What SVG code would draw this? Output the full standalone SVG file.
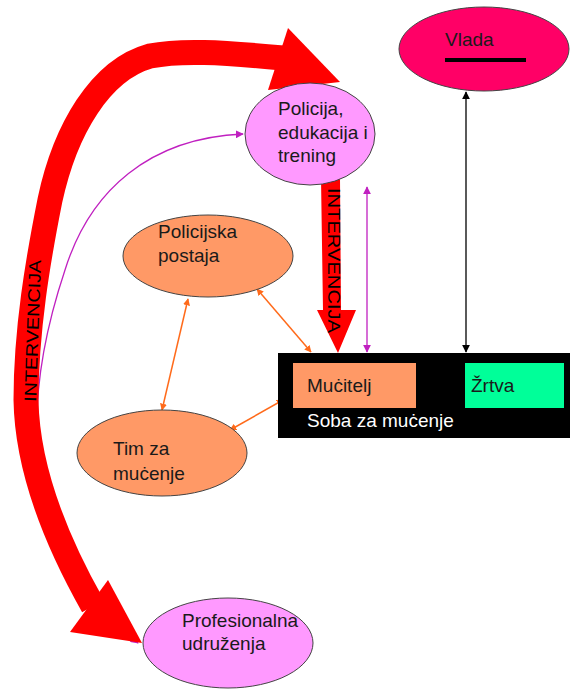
<svg xmlns="http://www.w3.org/2000/svg" width="570" height="689" viewBox="0 0 570 689">
<defs>
<style>
.t{font-family:"Liberation Sans",Arial,sans-serif;font-size:19px;fill:#1a1a1a}
.ell{stroke:#444;stroke-width:1}
.or{stroke:#FF6A1A;stroke-width:1.5;fill:none}
.mg{stroke:#C020C0;stroke-width:1.3;fill:none}
.bk{stroke:#000;stroke-width:1.3;fill:none}
</style>
<marker id="ao" viewBox="0 0 10 10" refX="9" refY="5" markerWidth="7" markerHeight="7" orient="auto-start-reverse" markerUnits="userSpaceOnUse"><path d="M0,0 L10,5 L0,10 z" fill="#FF6A1A"/></marker>
<marker id="am" viewBox="0 0 10 10" refX="9" refY="5" markerWidth="8" markerHeight="8" orient="auto-start-reverse" markerUnits="userSpaceOnUse"><path d="M0,0 L10,5 L0,10 z" fill="#C020C0"/></marker>
<marker id="ab" viewBox="0 0 10 10" refX="9" refY="5" markerWidth="8" markerHeight="8" orient="auto-start-reverse" markerUnits="userSpaceOnUse"><path d="M0,0 L10,5 L0,10 z" fill="#000"/></marker>
</defs>
<rect width="570" height="689" fill="#fff"/>

<g id="connectors">
  <path class="mg" d="M138,643 C80,600 40,520 37,440 C35,390 45,330 65,270 C90,190 150,138 243,134" marker-start="url(#am)" marker-end="url(#am)"/>
  <path d="M283,58 C220,52 180,50 150,56 C100,70 65,130 50,200 C38,260 26,330 26,400 C27,460 50,530 93,606" fill="none" stroke="#FF0000" stroke-width="25"/>
  <polygon points="288,28 268,90 340,82" fill="#FF0000"/>
  <polygon points="70,632 108,580 142,643" fill="#FF0000"/>
  <text class="t" transform="translate(36,402) rotate(-88)" style="font-size:17px;fill:#000" textLength="142" lengthAdjust="spacingAndGlyphs">INTERVENCIJA</text>
  <polygon points="321,178 340,178 341,310 356,310 338,353 317,310 323,310" fill="#FF0000"/>
  <text class="t" transform="translate(328,188) rotate(90)" style="font-size:17px;fill:#000" textLength="145" lengthAdjust="spacingAndGlyphs">INTERVENCIJA</text>
  <line class="mg" x1="367" y1="187" x2="367" y2="352" marker-start="url(#am)" marker-end="url(#am)"/>
  <line class="bk" x1="466" y1="92" x2="466" y2="352" marker-start="url(#ab)" marker-end="url(#ab)"/>
  <line class="or" x1="257" y1="289" x2="311" y2="352" marker-start="url(#ao)" marker-end="url(#ao)"/>
  <line class="or" x1="188" y1="299" x2="162" y2="410" marker-start="url(#ao)" marker-end="url(#ao)"/>
  <line class="or" x1="230" y1="430" x2="283" y2="400" marker-start="url(#ao)" marker-end="url(#ao)"/>
</g>

<g id="vlada">
  <ellipse class="ell" cx="484" cy="49" rx="85" ry="42" fill="#FF0066"/>
  <text class="t" x="445" y="46">Vlada</text>
  <rect x="445" y="58" width="81" height="4" fill="#000"/>
</g>

<g id="policija">
  <ellipse class="ell" cx="310" cy="134" rx="65" ry="51" fill="#FF99FF"/>
  <text class="t" x="278" y="115">Policija,</text>
  <text class="t" x="278" y="138.5">edukacija i</text>
  <text class="t" x="278" y="162">trening</text>
</g>

<g id="postaja">
  <ellipse class="ell" cx="208" cy="256" rx="85" ry="41" fill="#FF9966"/>
  <text class="t" x="158" y="238">Policijska</text>
  <text class="t" x="158" y="262">postaja</text>
</g>

<g id="tim">
  <ellipse class="ell" cx="162" cy="453" rx="85" ry="43" fill="#FF9966"/>
  <text class="t" x="113" y="455">Tim za</text>
  <text class="t" x="113" y="480">muċenje</text>
</g>

<g id="soba">
  <rect x="278" y="353" width="292" height="85" fill="#000"/>
  <text class="t" x="307" y="427" style="fill:#fff">Soba za muċenje</text>
</g>

<g id="mucitelj">
  <rect x="293" y="363" width="123" height="45" fill="#FF9966"/>
  <text class="t" x="307" y="392">Muċitelj</text>
</g>

<g id="zrtva">
  <rect x="465" y="363" width="99" height="45" fill="#00FF99"/>
  <text class="t" x="471" y="392">Žrtva</text>
</g>

<g id="profesionalna">
  <ellipse class="ell" cx="228" cy="643" rx="85" ry="45" fill="#FF99FF"/>
  <text class="t" x="182" y="627">Profesionalna</text>
  <text class="t" x="182" y="650">udruženja</text>
</g>
</svg>
